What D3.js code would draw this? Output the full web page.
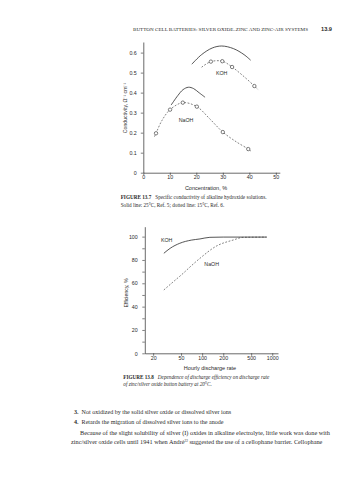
<!DOCTYPE html>
<html><head><meta charset="utf-8">
<script src="https://cdn.jsdelivr.net/npm/d3@7"></script>
<style>html,body{margin:0;padding:0;background:#fff}svg{display:block}</style>
</head><body>
<svg id="c" width="357" height="480"></svg>
<script>
// ---------- Figure 13.7 data: conductivity vs concentration ----------
const kohSolidConc = [18.3, 22, 26, 29.6, 34, 38, 40.5];
const kohSolidCond = [0.542, 0.59, 0.623, 0.633, 0.62, 0.59, 0.562];
const kohDashConc = [22, 25.5, 29.8, 33.5, 38, 41.9, 43.4];
const kohDashCond = [0.527, 0.555, 0.557, 0.528, 0.48, 0.433, 0.413];
const kohMarkConc = [25.5, 29.8, 33.5, 41.9];
const kohMarkCond = [0.555, 0.557, 0.528, 0.433];
const naohSolidConc = [10.5, 13, 15, 17, 19, 21, 23.3];
const naohSolidCond = [0.338, 0.385, 0.415, 0.427, 0.42, 0.4, 0.377];
const naohDashConc = [4.2, 4.8, 7, 10.1, 14.9, 20.2, 25, 30, 35, 39.6, 40.9];
const naohDashCond = [0.18, 0.197, 0.26, 0.315, 0.35, 0.33, 0.27, 0.203, 0.155, 0.118, 0.105];
const naohMarkConc = [4.8, 10.1, 14.9, 20.2, 30, 39.6];
const naohMarkCond = [0.197, 0.315, 0.35, 0.33, 0.203, 0.118];
const concTicks = [0, 10, 20, 30, 40, 50];
const condTicks = [0, 0.1, 0.2, 0.3, 0.4, 0.5, 0.6];

// ---------- Figure 13.8 data: efficiency vs hourly discharge rate ----------
const kohRate = [28.4, 35, 48, 70, 93, 129, 200, 400, 833];
const kohEff = [85.7, 90, 94.3, 97, 98, 99.4, 99.6, 99.6, 99.6];
const naohRate = [28.4, 40, 53.7, 70, 93, 161, 278, 386, 833];
const naohEff = [54.3, 62, 68.6, 75, 81.4, 92, 97.1, 99.4, 99.6];
const rateTicks = [20, 50, 100, 200, 500, 1000];
const effTicks = [0, 10, 20, 30, 40, 50, 60, 70, 80, 90, 100];
const effLabels = [0, 20, 40, 60, 80, 100];

const ink = "#2a2a2a";
const svg = d3.select("#c");
const sans = "'Liberation Sans', Arial, sans-serif";
const serif = "'Liberation Serif', 'Times New Roman', serif";

function txt(x, y, s, size, opts = {}) {
  const t = svg.append("text").attr("x", x).attr("y", y)
    .attr("font-family", opts.family || serif).attr("font-size", size)
    .attr("fill", opts.fill || ink).attr("dominant-baseline", "middle")
    .attr("text-anchor", opts.anchor || "start");
  if (opts.weight) t.attr("font-weight", opts.weight);
  if (opts.len) t.attr("textLength", opts.len).attr("lengthAdjust", "spacingAndGlyphs");
  if (opts.rotate) t.attr("transform", `rotate(${opts.rotate},${x},${y})`);
  t.text(s);
  return t;
}

// Header
txt(133, 29.5, "BUTTON CELL BATTERIES: SILVER OXIDE–ZINC AND ZINC-AIR SYSTEMS", 5, {len: 175});
txt(321, 29.5, "13.9", 5.5, {weight: "bold", family: sans, len: 11});

// ---------- Chart 1 ----------
const x1 = d3.scaleLinear().domain([0, 51.5]).range([143.3, 279.8]);
const y1 = d3.scaleLinear().domain([0, 0.653]).range([172.7, 42]);

const g1 = svg.append("g");
g1.append("g").attr("transform", `translate(0,${y1(0)})`)
  .call(d3.axisBottom(x1).tickValues(concTicks).tickSize(2.5).tickSizeOuter(0).tickFormat(d3.format("d")))
  .call(g => { g.select(".domain").attr("stroke", ink).attr("stroke-width", 0.7);
    g.selectAll(".tick line").attr("stroke", ink).attr("stroke-width", 0.6);
    g.selectAll(".tick text").attr("font-family", sans).attr("font-size", 5.3).attr("fill", ink).attr("dy", "0.2em"); });
g1.append("g").attr("transform", `translate(${x1(0)},0)`)
  .call(d3.axisLeft(y1).tickValues(condTicks).tickSize(2.5).tickSizeOuter(0).tickFormat(d => d === 0 ? "0" : d3.format(".1f")(d)))
  .call(g => { g.select(".domain").attr("stroke", ink).attr("stroke-width", 0.7);
    g.selectAll(".tick line").attr("stroke", ink).attr("stroke-width", 0.6);
    g.selectAll(".tick text").attr("font-family", sans).attr("font-size", 5.3).attr("fill", ink).attr("dx", "-0.2em"); });

const line1 = d3.line().x(d => x1(d[0])).y(d => y1(d[1])).curve(d3.curveCatmullRom.alpha(0.5));
function path1(xs, ys, dashed) {
  g1.append("path").datum(xs.map((v, i) => [v, ys[i]])).attr("d", line1)
    .attr("fill", "none").attr("stroke", ink).attr("stroke-width", dashed ? 0.6 : 0.8)
    .attr("stroke-dasharray", dashed ? "1.8,1.6" : null);
}
path1(kohSolidConc, kohSolidCond, false);
path1(kohDashConc, kohDashCond, true);
path1(naohSolidConc, naohSolidCond, false);
path1(naohDashConc, naohDashCond, true);
function marks1(xs, ys) {
  g1.selectAll(null).data(xs.map((v, i) => [v, ys[i]])).enter().append("circle")
    .attr("cx", d => x1(d[0])).attr("cy", d => y1(d[1])).attr("r", 1.7)
    .attr("fill", "#fff").attr("stroke", ink).attr("stroke-width", 0.6);
}
marks1(kohMarkConc, kohMarkCond);
marks1(naohMarkConc, naohMarkCond);

txt(221.7, 74, "KOH", 5.3, {family: sans, anchor: "middle"});
txt(186, 121, "NaOH", 5.3, {family: sans, anchor: "middle"});
txt(206, 188.5, "Concentration, %", 5.5, {family: sans, anchor: "middle"});
txt(126, 108, "Conductivity, Ω⁻¹ cm⁻¹", 5.2, {family: sans, anchor: "middle", rotate: -90});

const cap1 = svg.append("text").attr("x", 120.7).attr("y", 198).attr("font-family", serif)
  .attr("font-size", 5.2).attr("fill", ink).attr("dominant-baseline", "middle");
cap1.append("tspan").attr("font-weight", "bold").text("FIGURE 13.7");
cap1.append("tspan").attr("dx", 4).text("Specific conductivity of alkaline hydroxide solutions.");
txt(120.7, 206, "Solid line: 25°C, Ref. 5; dotted line: 15°C, Ref. 6.", 5.2);

// ---------- Chart 2 ----------
const x2 = d3.scaleLog().domain([15.2, 1208]).range([144.8, 278]);
const y2 = d3.scaleLinear().domain([0, 108.5]).range([353.3, 226.7]);
const g2 = svg.append("g");
g2.append("g").attr("transform", `translate(0,${y2(0)})`)
  .call(d3.axisBottom(x2).tickValues(rateTicks).tickSize(2.5).tickSizeOuter(0).tickFormat(d3.format("d")))
  .call(g => { g.select(".domain").attr("stroke", ink).attr("stroke-width", 0.7);
    g.selectAll(".tick line").attr("stroke", ink).attr("stroke-width", 0.6);
    g.selectAll(".tick text").attr("font-family", sans).attr("font-size", 5.3).attr("fill", ink).attr("dy", "0.3em"); });
g2.append("g").attr("transform", `translate(${x2.range()[0]},0)`)
  .call(d3.axisLeft(y2).tickValues(effTicks).tickSize(2.5).tickSizeOuter(0)
    .tickFormat(d => effLabels.includes(d) ? String(d) : ""))
  .call(g => { g.select(".domain").attr("stroke", ink).attr("stroke-width", 0.7);
    g.selectAll(".tick line").attr("stroke", ink).attr("stroke-width", 0.6);
    g.selectAll(".tick text").attr("font-family", sans).attr("font-size", 5.3).attr("fill", ink).attr("dx", "-0.3em"); });

const line2 = d3.line().x(d => x2(d[0])).y(d => y2(d[1])).curve(d3.curveMonotoneX);
g2.append("path").datum(kohRate.map((v, i) => [v, kohEff[i]])).attr("d", line2)
  .attr("fill", "none").attr("stroke", ink).attr("stroke-width", 0.8);
g2.append("path").datum(naohRate.map((v, i) => [v, naohEff[i]])).attr("d", line2)
  .attr("fill", "none").attr("stroke", ink).attr("stroke-width", 0.6).attr("stroke-dasharray", "1.8,1.6");

txt(166.7, 241, "KOH", 5.3, {family: sans, anchor: "middle"});
txt(211.7, 265, "NaOH", 5.3, {family: sans, anchor: "middle"});
txt(210, 368.5, "Hourly discharge rate", 5.5, {family: sans, anchor: "middle"});
txt(126.7, 293, "Efficiency, %", 5.2, {family: sans, anchor: "middle", rotate: -90});

const cap2 = svg.append("text").attr("x", 123.3).attr("y", 378.3).attr("font-family", serif)
  .attr("font-size", 5.2).attr("fill", ink).attr("dominant-baseline", "middle");
cap2.append("tspan").attr("font-weight", "bold").text("FIGURE 13.8");
cap2.append("tspan").attr("dx", 4).attr("font-style", "italic").text("Dependence of discharge efficiency on discharge rate");
txt(123.3, 384.8, "of zinc/silver oxide button battery at 20°C.", 5.2).attr("font-style", "italic");

// ---------- Body text ----------
const b3 = svg.append("text").attr("x", 74).attr("y", 413).attr("font-family", serif).attr("font-size", 6.1)
  .attr("fill", ink).attr("dominant-baseline", "middle");
b3.append("tspan").attr("font-weight", "bold").text("3.");
b3.append("tspan").attr("dx", 3).text("Not oxidized by the solid silver oxide or dissolved silver ions");
const b4 = svg.append("text").attr("x", 74).attr("y", 423).attr("font-family", serif).attr("font-size", 6.1)
  .attr("fill", ink).attr("dominant-baseline", "middle");
b4.append("tspan").attr("font-weight", "bold").text("4.");
b4.append("tspan").attr("dx", 3).text("Retards the migration of dissolved silver ions to the anode");
txt(80, 434, "Because of the slight solubility of silver (I) oxides in alkaline electrolyte, little work was done with", 6.1, {len: 250});
const p2 = svg.append("text").attr("x", 71).attr("y", 443).attr("font-family", serif).attr("font-size", 6.25)
  .attr("fill", ink).attr("dominant-baseline", "middle");
p2.append("tspan").text("zinc/silver oxide cells until 1941 when André");
p2.append("tspan").attr("font-size", 3.4).attr("dy", -1.6).text("22");
p2.append("tspan").attr("dy", 1.6).attr("dx", 1.5).text("suggested the use of a cellophane barrier. Cellophane");
</script>
</body></html>
